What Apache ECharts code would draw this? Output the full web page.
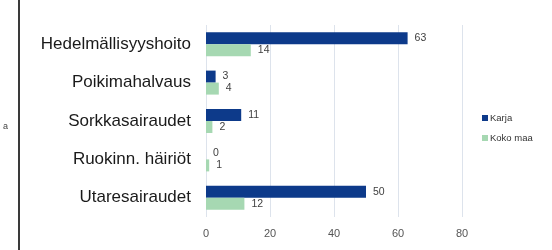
<!DOCTYPE html>
<html>
<head>
<meta charset="utf-8">
<script src="https://cdn.jsdelivr.net/npm/echarts@6/dist/echarts.min.js"></script>
<style>
  html, body { margin: 0; padding: 0; background: #fff; }
  #chart { width: 552px; height: 250px; }
</style>
</head>
<body>
<div id="chart"></div>
<script>
// data
const categories = ['Hedelmällisyyshoito', 'Poikimahalvaus', 'Sorkkasairaudet', 'Ruokinn. häiriöt', 'Utaresairaudet']
const karja = [63, 3, 11, 0, 50]
const kokoMaa = [14, 4, 2, 1, 12]
const xTicks = [0, 20, 40, 60, 80]

const chart = echarts.init(document.getElementById('chart'))

const labelStyle = {
  show: true,
  position: 'right',
  distance: 7,
  color: '#404040',
  fontSize: 10.5,
  fontFamily: 'Liberation Sans'
}

chart.setOption({
  animation: false,
  textStyle: { fontFamily: 'Liberation Sans' },
  grid: {
    left: 206,
    right: 90,
    top: 25,
    bottom: 33
  },
  legend: {
    orient: 'vertical',
    left: 477,
    top: 108,
    itemWidth: 6,
    itemHeight: 6,
    itemGap: 10,
    icon: 'rect',
    textStyle: { fontSize: 9.5, color: '#333', padding: [0, 0, 0, -3] },
    data: ['Karja', 'Koko maa']
  },
  xAxis: {
    type: 'value',
    min: xTicks[0],
    max: xTicks[xTicks.length - 1],
    interval: 20,
    axisLine: { show: false },
    axisTick: { show: false },
    axisLabel: { color: '#555', fontSize: 11, margin: 11 },
    splitLine: { lineStyle: { color: '#dde3ec', width: 1 } }
  },
  yAxis: {
    type: 'category',
    inverse: true,
    data: categories,
    axisLine: { show: false },
    axisTick: { show: false },
    axisLabel: { color: '#1a1a1a', fontSize: 17, margin: 15 }
  },
  series: [
    {
      name: 'Karja',
      type: 'bar',
      data: karja,
      barWidth: 12,
      barGap: '0%',
      itemStyle: { color: '#0d3a8a' },
      label: labelStyle
    },
    {
      name: 'Koko maa',
      type: 'bar',
      data: kokoMaa,
      barWidth: 12,
      itemStyle: { color: '#a6d8b2' },
      label: labelStyle
    }
  ],
  graphic: [
    {
      type: 'rect',
      shape: { x: 18, y: 0, width: 2, height: 250 },
      style: { fill: '#3a3a3a' }
    },
    {
      type: 'text',
      left: 3,
      top: 122,
      style: { text: 'a', fontSize: 9, fill: '#444', fontFamily: 'Liberation Sans' }
    }
  ]
})
</script>
</body>
</html>
